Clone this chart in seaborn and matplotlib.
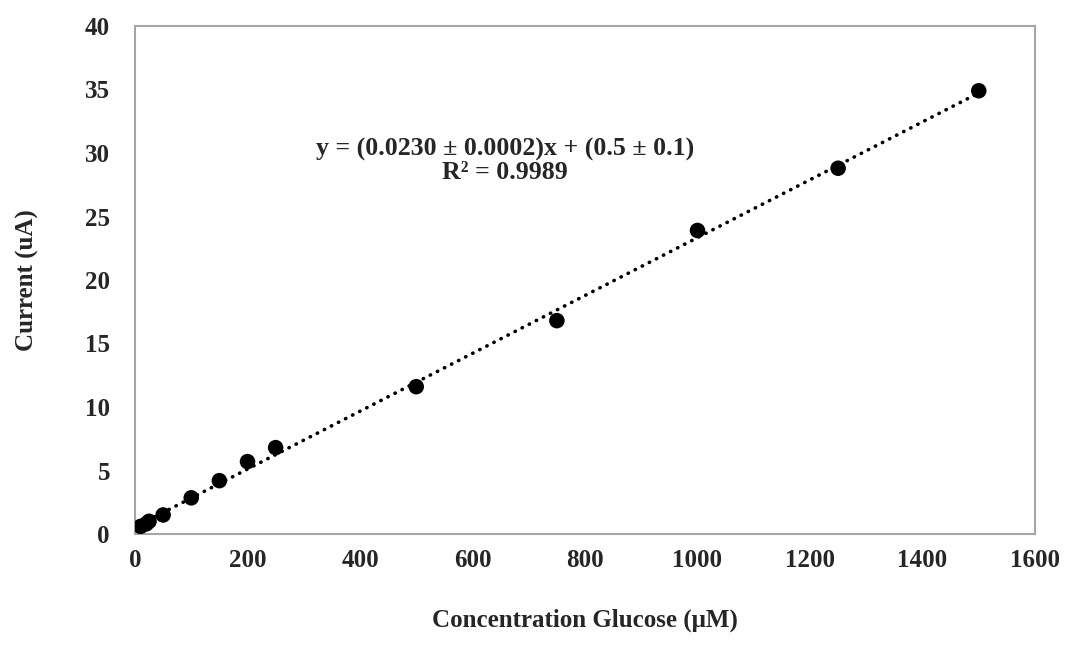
import numpy as np
import pandas as pd
import matplotlib
matplotlib.use("Agg")
import matplotlib.pyplot as plt
import seaborn as sns

# Data
concentration = [10, 20, 25, 50, 100, 150, 200, 250, 500, 750, 1000, 1250, 1500]
current = [0.6, 0.8, 1.0, 1.5, 2.85, 4.2, 5.7, 6.8, 11.6, 16.8, 23.9, 28.8, 34.9]
current_err = [0.05, 0.05, 0.05, 0.1, 0.1, 0.1, 0.15, 0.15, 0.2, 0.6, 0.2, 0.2, 0.2]

x_ticks = [0, 200, 400, 600, 800, 1000, 1200, 1400, 1600]
y_ticks = [0, 5, 10, 15, 20, 25, 30, 35, 40]

equation_text = "y = (0.0230 ± 0.0002)x + (0.5 ± 0.1)\nR² = 0.9989"
x_label = "Concentration Glucose (μM)"
y_label = "Current (uA)"

df = pd.DataFrame({"conc": concentration, "cur": current, "err": current_err})

sns.set_theme(style="white")
plt.rcParams["font.family"] = ["Liberation Serif", "DejaVu Serif"]
plt.rcParams["font.weight"] = "bold"

fig = plt.figure(figsize=(10.66, 6.47), dpi=100)
ax = fig.add_axes([135 / 1066, 1 - 534 / 647, 900 / 1066, 508 / 647])

# trendline (linear fit through the data)
sns.regplot(data=df, x="conc", y="cur", ax=ax, scatter=False, ci=None,
            line_kws=dict(color="black", lw=2.6, linestyle=(0, (0.1, 2.1)),
                          dash_capstyle="round"))

ax.errorbar(df["conc"], df["cur"], yerr=df["err"], fmt="none",
            ecolor="black", elinewidth=1.2, capsize=0, zorder=3)
sns.scatterplot(data=df, x="conc", y="cur", ax=ax, color="black", s=125,
                edgecolor="none", zorder=4)

ax.set_xlim(0, 1600)
ax.set_ylim(0, 40)
ax.set_xticks(x_ticks)
ax.set_yticks(y_ticks)
ax.set_xticklabels([str(t) for t in x_ticks], fontsize=18, fontweight="bold")
ax.set_yticklabels([str(t) for t in y_ticks], fontsize=18, fontweight="bold")
ax.tick_params(axis="y", length=0, pad=18)
ax.tick_params(axis="x", length=0, pad=11)

ax.set_xlabel(x_label, fontsize=18, fontweight="bold", labelpad=26)
ax.set_ylabel(y_label, fontsize=18, fontweight="bold", labelpad=33)

for s in ax.spines.values():
    s.set_color("#a6a6a6")
    s.set_linewidth(1.5)

ax.text(658, 29.4, equation_text, ha="center", va="center", fontsize=18.6,
        fontweight="bold", linespacing=1.0)

fig.savefig("out.png", dpi=100)
